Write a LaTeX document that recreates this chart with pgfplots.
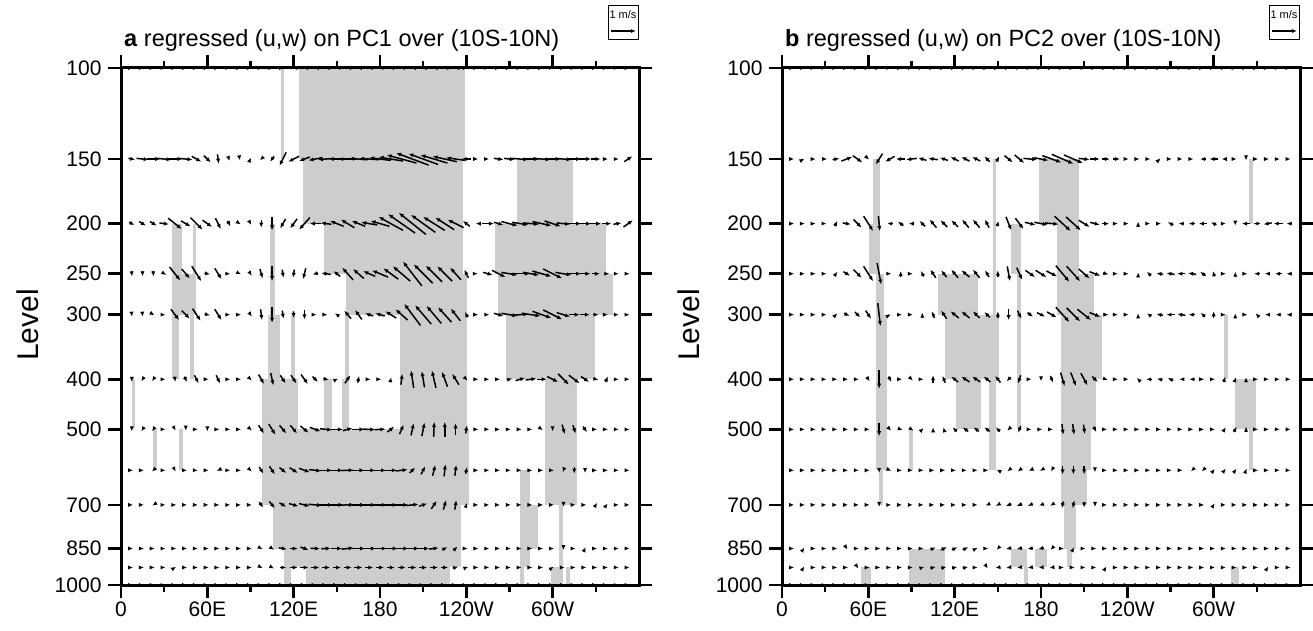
\documentclass[border=0pt]{standalone}
\usepackage{pgfplots}
\pgfplotsset{compat=1.18}
\usepackage{pgfplotstable}
\usepackage{fontspec}
\setmainfont{Liberation Sans}
\usetikzlibrary{arrows.meta}
\definecolor{sig}{RGB}{204,206,206}

% regressed (u,w) vectors, panel a: lon, level (hPa), u, w (display units, 1 = ref vector)
\pgfplotstableread{
lon p u w
7.5 100 .1 0
15 100 .1 0
22.5 100 .1 0
30 100 .1 0
37.5 100 .1 0
45 100 .1 0
52.5 100 .1 0
60 100 .1 0
67.5 100 .1 0
75 100 .1 0
82.5 100 .1 0
90 100 .1 0
97.5 100 .1 0
105 100 .1 0
112.5 100 .1 0
120 100 -.1 0
127.5 100 -.1 0
135 100 -.1 0
142.5 100 -.1 0
150 100 -.1 0
157.5 100 -.12 0
165 100 -.12 0
172.5 100 -.12 0
180 100 -.12 0
187.5 100 -.12 0
195 100 -.12 0
202.5 100 -.12 0
210 100 -.12 0
217.5 100 -.1 0
225 100 -.1 0
232.5 100 -.1 0
240 100 .1 0
247.5 100 .1 0
255 100 .1 0
262.5 100 .1 0
270 100 .1 0
277.5 100 .1 0
285 100 .1 0
292.5 100 .1 0
300 100 .1 0
307.5 100 .1 0
315 100 .1 0
322.5 100 .1 0
330 100 .1 0
337.5 100 .1 0
345 100 .1 0
352.5 100 .1 0
7.5 150 .25 -.05
15 150 .45 -.05
22.5 150 .5 0
30 150 .55 -.05
37.5 150 .55 0
45 150 .5 -.05
52.5 150 .35 -.2
60 150 .25 -.25
67.5 150 .05 -.35
75 150 .05 -.15
82.5 150 .02 -.1
90 150 .05 .1
97.5 150 -.1 -.1
105 150 -.15 -.2
112.5 150 -.25 -.5
120 150 -.4 -.2
127.5 150 -.4 -.15
135 150 -.5 -.1
142.5 150 -.6 -.05
150 150 -.6 0
157.5 150 -.7 0
165 150 -.7 .05
172.5 150 -.75 .05
180 150 -.8 .1
187.5 150 -.9 .15
195 150 -1.1 .3
202.5 150 -1.2 .45
210 150 -1.1 .4
217.5 150 -1 .3
225 150 -.9 .2
232.5 150 -.7 .1
240 150 -.35 0
247.5 150 .08 0
255 150 .08 0
262.5 150 .35 -.05
270 150 .4 -.05
277.5 150 .6 -.05
285 150 .6 0
292.5 150 .65 -.05
300 150 .6 0
307.5 150 .6 -.05
315 150 .5 0
322.5 150 .45 0
330 150 .35 0
337.5 150 .1 0
345 150 .1 0
352.5 150 .3 .2
7.5 200 .2 -.1
15 200 .25 -.15
22.5 200 .25 -.15
30 200 .35 -.05
37.5 200 .5 -.4
45 200 .35 -.2
52.5 200 .45 -.45
60 200 .35 -.25
67.5 200 .2 -.4
75 200 .1 -.2
82.5 200 .08 -.05
90 200 .05 -.1
97.5 200 0 -.3
105 200 0 -.5
112.5 200 -.2 -.35
120 200 -.25 -.35
127.5 200 -.4 -.45
135 200 -.4 0
142.5 200 -.4 .05
150 200 -.5 .2
157.5 200 -.5 .3
165 200 -.5 .2
172.5 200 -.6 .1
180 200 -.7 .2
187.5 200 -.9 .5
195 200 -1 .7
202.5 200 -1 .8
210 200 -.9 .65
217.5 200 -.8 .5
225 200 -.7 .45
232.5 200 -.6 .3
240 200 -.25 .2
247.5 200 -.1 0
255 200 .45 0
262.5 200 .35 -.1
270 200 .6 -.15
277.5 200 .6 -.1
285 200 .6 -.05
292.5 200 .7 -.15
300 200 .6 -.2
307.5 200 .5 -.05
315 200 .5 0
322.5 200 .45 0
330 200 .4 0
337.5 200 .35 0
345 200 .3 .05
352.5 200 .35 .25
7.5 250 .02 -.2
15 250 .02 -.2
22.5 250 .02 -.2
30 250 .15 -.1
37.5 250 .4 -.5
45 250 .3 -.35
52.5 250 .35 -.55
60 250 .2 -.05
67.5 250 .25 -.4
75 250 .1 0
82.5 250 .1 -.05
90 250 .1 -.15
97.5 250 .1 -.35
105 250 0 -.55
112.5 250 .05 -.3
120 250 -.05 -.3
127.5 250 -.1 -.4
135 250 -.2 -.05
142.5 250 -.35 .05
150 250 -.25 .2
157.5 250 -.4 .45
165 250 -.4 .35
172.5 250 -.45 .2
180 250 -.6 .25
187.5 250 -.55 .4
195 250 -.65 .55
202.5 250 -.7 .9
210 250 -.7 .7
217.5 250 -.6 .6
225 250 -.55 .55
232.5 250 -.4 .45
240 250 -.15 .3
247.5 250 .05 0
255 250 .35 -.1
262.5 250 .5 -.25
270 250 .6 -.1
277.5 250 .7 0
285 250 .6 -.1
292.5 250 .7 -.2
300 250 .7 -.35
307.5 250 .6 -.1
315 250 .5 0
322.5 250 .4 0
330 250 .3 0
337.5 250 .2 0
345 250 .1 0
352.5 250 .1 0
7.5 300 .02 -.15
15 300 .02 -.15
22.5 300 .08 -.05
30 300 .1 0
37.5 300 .3 -.4
45 300 .3 -.3
52.5 300 .3 -.45
60 300 .2 -.05
67.5 300 .25 -.4
75 300 .1 0
82.5 300 .1 0
90 300 .1 -.15
97.5 300 .05 -.4
105 300 0 -.6
112.5 300 .05 -.3
120 300 .02 -.25
127.5 300 0 -.35
135 300 .1 0
142.5 300 .1 0
150 300 -.15 .1
157.5 300 -.25 .3
165 300 -.25 .35
172.5 300 -.3 .1
180 300 -.35 .1
187.5 300 -.4 .25
195 300 -.45 .4
202.5 300 -.6 .8
210 300 -.6 .7
217.5 300 -.55 .65
225 300 -.5 .55
232.5 300 -.35 .45
240 300 -.1 .2
247.5 300 .08 0
255 300 .1 0
262.5 300 .35 -.1
270 300 .6 -.1
277.5 300 .6 .05
285 300 .7 -.1
292.5 300 .7 -.25
300 300 .7 -.35
307.5 300 .5 -.15
315 300 .4 0
322.5 300 .35 0
330 300 .2 0
337.5 300 .1 0
345 300 .1 0
352.5 300 .1 0
7.5 400 0 -.2
15 400 -.1 -.15
22.5 400 -.1 -.15
30 400 .1 0
37.5 400 .02 -.2
45 400 .1 -.2
52.5 400 .15 -.3
60 400 .1 0
67.5 400 .15 -.3
75 400 .1 0
82.5 400 .1 0
90 400 .1 -.1
97.5 400 .2 -.35
105 400 .1 -.45
112.5 400 .2 -.3
120 400 .2 -.3
127.5 400 .25 -.35
135 400 .2 -.2
142.5 400 .2 -.05
150 400 .1 .05
157.5 400 .2 .3
165 400 .05 .25
172.5 400 .1 0
180 400 .1 0
187.5 400 .03 .15
195 400 .05 .4
202.5 400 -.1 .65
210 400 -.1 .6
217.5 400 -.15 .65
225 400 -.2 .55
232.5 400 -.25 .4
240 400 .1 -.1
247.5 400 .1 0
255 400 .1 0
262.5 400 .1 0
270 400 .2 .05
277.5 400 .35 .1
285 400 .4 .05
292.5 400 .35 0
300 400 .4 -.2
307.5 400 .4 -.4
315 400 .4 -.3
322.5 400 .3 -.2
330 400 .2 -.05
337.5 400 .1 .2
345 400 .1 0
352.5 400 .1 0
7.5 500 0 -.15
15 500 -.1 -.15
22.5 500 -.1 -.15
30 500 .1 0
37.5 500 .05 -.1
45 500 0 -.1
52.5 500 .1 0
60 500 0 -.15
67.5 500 .1 0
75 500 .1 0
82.5 500 .1 0
90 500 .1 -.1
97.5 500 .2 -.3
105 500 .25 -.4
112.5 500 .25 -.3
120 500 .25 -.3
127.5 500 .3 -.25
135 500 .4 -.15
142.5 500 .45 -.05
150 500 .45 0
157.5 500 .35 .1
165 500 .45 0
172.5 500 .45 -.02
180 500 .4 .02
187.5 500 .25 .2
195 500 .15 .35
202.5 500 .1 .45
210 500 .1 .5
217.5 500 .02 .55
225 500 0 .55
232.5 500 0 .45
240 500 .05 .3
247.5 500 .1 0
255 500 .1 0
262.5 500 .1 0
270 500 .1 0
277.5 500 .1 0
285 500 .1 0
292.5 500 .08 -.05
300 500 0 -.15
307.5 500 .1 -.35
315 500 .1 -.3
322.5 500 .15 -.2
330 500 .1 0
337.5 500 .1 0
345 500 .1 0
352.5 500 .1 0
7.5 600 .1 0
15 600 .1 0
22.5 600 -.1 -.1
30 600 .1 0
37.5 600 .05 -.1
45 600 .1 0
52.5 600 .1 0
60 600 .1 0
67.5 600 -.1 -.05
75 600 .1 0
82.5 600 .1 0
90 600 .1 -.1
97.5 600 .15 -.25
105 600 .2 -.3
112.5 600 .25 -.2
120 600 .3 -.2
127.5 600 .4 -.15
135 600 .45 -.05
142.5 600 .45 0
150 600 .45 0
157.5 600 .45 .02
165 600 .45 0
172.5 600 .45 0
180 600 .45 0
187.5 600 .45 0
195 600 .45 .05
202.5 600 .2 .2
210 600 .15 .3
217.5 600 .1 .4
225 600 .05 .45
232.5 600 .05 .4
240 600 .05 .25
247.5 600 .1 0
255 600 .1 0
262.5 600 .1 0
270 600 .1 0
277.5 600 .1 0
285 600 .1 0
292.5 600 .1 0
300 600 .1 0
307.5 600 -.05 -.15
315 600 0 -.25
322.5 600 0 -.2
330 600 .1 0
337.5 600 .1 0
345 600 .1 0
352.5 600 .1 0
7.5 700 .1 0
15 700 .1 0
22.5 700 -.08 -.05
30 700 .1 0
37.5 700 .1 0
45 700 .1 0
52.5 700 .1 0
60 700 .1 0
67.5 700 .1 0
75 700 .1 0
82.5 700 .1 0
90 700 .1 0
97.5 700 .15 -.2
105 700 .2 -.25
112.5 700 .25 -.15
120 700 .35 -.1
127.5 700 .4 -.1
135 700 .5 -.05
142.5 700 .5 0
150 700 .5 0
157.5 700 .5 .02
165 700 .5 0
172.5 700 .5 0
180 700 .5 0
187.5 700 .5 0
195 700 .5 0
202.5 700 .45 .05
210 700 .3 .1
217.5 700 .2 .3
225 700 .1 .35
232.5 700 .05 .35
240 700 .05 .15
247.5 700 .1 0
255 700 .1 0
262.5 700 .1 0
270 700 .1 0
277.5 700 .1 0
285 700 .1 0
292.5 700 .1 0
300 700 .1 0
307.5 700 0 -.15
315 700 .1 0
322.5 700 .1 0
330 700 .1 .15
337.5 700 .08 .1
345 700 .1 0
352.5 700 .1 0
7.5 850 .1 0
15 850 .1 0
22.5 850 .1 0
30 850 .1 0
37.5 850 .1 0
45 850 .1 0
52.5 850 .1 0
60 850 .1 0
67.5 850 .1 0
75 850 .1 0
82.5 850 .1 0
90 850 .1 0
97.5 850 .1 -.05
105 850 .15 -.1
112.5 850 .3 -.05
120 850 .3 0
127.5 850 .3 -.1
135 850 .35 -.02
142.5 850 .35 .02
150 850 .4 0
157.5 850 .45 .05
165 850 .5 0
172.5 850 .5 0
180 850 .5 0
187.5 850 .5 0
195 850 .5 0
202.5 850 .5 0
210 850 .45 0
217.5 850 .35 .05
225 850 .2 .1
232.5 850 .15 .15
240 850 .1 0
247.5 850 .1 0
255 850 .1 0
262.5 850 .1 0
270 850 .1 0
277.5 850 .1 0
285 850 .1 0
292.5 850 .1 0
300 850 .1 0
307.5 850 0 -.12
315 850 .1 0
322.5 850 .05 .1
330 850 .1 0
337.5 850 .1 0
345 850 .1 0
352.5 850 .1 0
7.5 925 .1 0
15 925 .1 0
22.5 925 .1 0
30 925 .1 0
37.5 925 .08 .05
45 925 .1 0
52.5 925 .1 0
60 925 .1 0
67.5 925 .1 0
75 925 .1 0
82.5 925 .1 0
90 925 .1 0
97.5 925 .1 -.05
105 925 .15 -.08
112.5 925 .25 0
120 925 .3 0
127.5 925 .3 0
135 925 .3 0
142.5 925 .3 0
150 925 .3 0
157.5 925 .3 0
165 925 .3 0
172.5 925 .3 0
180 925 .3 0
187.5 925 .3 0
195 925 .3 0
202.5 925 .3 0
210 925 .3 0
217.5 925 .3 0
225 925 .25 0
232.5 925 .2 .05
240 925 .15 .05
247.5 925 .1 0
255 925 .1 0
262.5 925 .1 0
270 925 .1 0
277.5 925 .1 0
285 925 .1 0
292.5 925 .1 0
300 925 .08 .05
307.5 925 .1 0
315 925 .1 0
322.5 925 .1 0
330 925 .1 0
337.5 925 .1 0
345 925 .1 0
352.5 925 .1 0
7.5 1000 .1 0
15 1000 .1 0
22.5 1000 .1 0
30 1000 .1 0
37.5 1000 .1 0
45 1000 .1 0
52.5 1000 .1 0
60 1000 .1 0
67.5 1000 .1 0
75 1000 .1 0
82.5 1000 .1 0
90 1000 .1 0
97.5 1000 .1 0
105 1000 .1 0
112.5 1000 .1 0
120 1000 .1 0
127.5 1000 .1 0
135 1000 .1 0
142.5 1000 .1 0
150 1000 .1 0
157.5 1000 .1 0
165 1000 .1 0
172.5 1000 .1 0
180 1000 .1 0
187.5 1000 .1 0
195 1000 .1 0
202.5 1000 .1 0
210 1000 .1 0
217.5 1000 .1 0
225 1000 .1 0
232.5 1000 .1 0
240 1000 .1 0
247.5 1000 .1 0
255 1000 .1 0
262.5 1000 .1 0
270 1000 .1 0
277.5 1000 .1 0
285 1000 .1 0
292.5 1000 .1 0
300 1000 .1 0
307.5 1000 .1 0
315 1000 .1 0
322.5 1000 .1 0
330 1000 .1 0
337.5 1000 .1 0
345 1000 .1 0
352.5 1000 .1 0
}\vecA

% panel b
\pgfplotstableread{
lon p u w
7.5 100 .1 0
15 100 .1 0
22.5 100 .1 0
30 100 .1 0
37.5 100 .1 0
45 100 .1 0
52.5 100 .1 0
60 100 .1 0
67.5 100 .1 0
75 100 .1 0
82.5 100 .1 0
90 100 .1 0
97.5 100 .1 0
105 100 .1 0
112.5 100 .1 0
120 100 .1 0
127.5 100 .1 0
135 100 .1 0
142.5 100 .1 0
150 100 .1 0
157.5 100 .1 0
165 100 .1 0
172.5 100 .1 0
180 100 .1 0
187.5 100 .1 0
195 100 .1 0
202.5 100 .1 0
210 100 .1 0
217.5 100 .1 0
225 100 .1 0
232.5 100 .1 0
240 100 .1 0
247.5 100 .1 0
255 100 .1 0
262.5 100 .1 0
270 100 .1 0
277.5 100 .1 0
285 100 .1 0
292.5 100 .1 0
300 100 .1 0
307.5 100 .1 0
315 100 .1 0
322.5 100 .1 0
330 100 .1 0
337.5 100 .1 0
345 100 .1 0
352.5 100 .1 0
7.5 150 .1 0
15 150 .05 .03
22.5 150 .1 0
30 150 .15 0
37.5 150 .25 .05
45 150 .4 .15
52.5 150 .35 -.25
60 150 .05 -.05
67.5 150 -.25 -.4
75 150 -.35 -.2
82.5 150 -.35 0
90 150 -.4 -.05
97.5 150 -.3 .1
105 150 -.35 .05
112.5 150 -.3 .1
120 150 -.3 .15
127.5 150 -.3 .15
135 150 -.3 .15
142.5 150 -.2 .2
150 150 .1 .2
157.5 150 .3 -.25
165 150 .35 -.3
172.5 150 .5 -.05
180 150 .55 -.1
187.5 150 .7 -.25
195 150 .8 -.35
202.5 150 .7 -.3
210 150 .4 -.05
217.5 150 .35 0
225 150 .3 0
232.5 150 .25 0
240 150 .1 0
247.5 150 .1 0
255 150 .1 0
262.5 150 .05 .05
270 150 .1 0
277.5 150 .1 0
285 150 .1 0
292.5 150 -.2 0
300 150 -.3 0
307.5 150 -.2 0
315 150 .1 0
322.5 150 0 -.1
330 150 .1 0
337.5 150 .1 0
345 150 .1 0
352.5 150 .1 0
7.5 200 .1 0
15 200 .1 0
22.5 200 .1 0
30 200 .1 0
37.5 200 .1 .2
45 200 .3 -.05
52.5 200 .3 -.3
60 200 .35 -.55
67.5 200 .05 -.55
75 200 -.2 0
82.5 200 -.2 .15
90 200 -.2 0
97.5 200 -.2 .2
105 200 -.25 .3
112.5 200 -.25 .25
120 200 -.25 .25
127.5 200 -.25 .3
135 200 -.25 .3
142.5 200 -.15 .3
150 200 .05 .2
157.5 200 .2 -.5
165 200 .3 -.4
172.5 200 .4 -.1
180 200 .5 -.1
187.5 200 .5 -.05
195 200 .6 -.55
202.5 200 .55 -.5
210 200 .4 -.25
217.5 200 .35 -.1
225 200 .25 0
232.5 200 .1 0
240 200 .1 0
247.5 200 0 .15
255 200 .1 0
262.5 200 .1 0
270 200 -.2 .1
277.5 200 -.2 0
285 200 -.25 0
292.5 200 -.3 0
300 200 -.2 .1
307.5 200 .1 0
315 200 0 -.15
322.5 200 -.3 0
330 200 -.25 0
337.5 200 -.3 -.05
345 200 -.35 0
352.5 200 -.2 0
7.5 250 .1 0
15 250 .1 0
22.5 250 .1 0
30 250 .1 0
37.5 250 .1 .15
45 250 .25 -.15
52.5 250 .3 -.3
60 250 .35 -.55
67.5 250 .15 -.8
75 250 .1 0
82.5 250 0 .2
90 250 .1 0
97.5 250 -.1 .2
105 250 -.2 .3
112.5 250 -.2 .25
120 250 -.25 .3
127.5 250 -.3 .25
135 250 -.25 .3
142.5 250 -.15 .25
150 250 0 .25
157.5 250 .1 -.55
165 250 .2 -.45
172.5 250 .35 -.25
180 250 .4 -.25
187.5 250 .4 -.2
195 250 .5 -.6
202.5 250 .5 -.55
210 250 .4 -.35
217.5 250 .4 -.15
225 250 .2 -.05
232.5 250 .1 0
240 250 .1 0
247.5 250 0 .1
255 250 -.15 .15
262.5 250 -.25 .05
270 250 -.3 .05
277.5 250 -.3 0
285 250 -.3 .05
292.5 250 -.2 .15
300 250 -.05 .2
307.5 250 .1 0
315 250 0 .15
322.5 250 .1 0
330 250 -.2 0
337.5 250 -.2 0
345 250 -.25 0
352.5 250 -.2 0
7.5 300 .1 0
15 300 .1 0
22.5 300 .1 0
30 300 .1 0
37.5 300 .1 .1
45 300 .2 -.1
52.5 300 .2 -.2
60 300 .2 -.3
67.5 300 .1 -.85
75 300 .05 .03
82.5 300 .1 0
90 300 .1 0
97.5 300 0 .15
105 300 -.1 .25
112.5 300 -.2 .3
120 300 -.3 .25
127.5 300 -.3 .25
135 300 -.25 .25
142.5 300 -.2 .2
150 300 0 .25
157.5 300 0 -.4
165 300 .15 -.3
172.5 300 .2 -.15
180 300 .3 -.15
187.5 300 .35 -.2
195 300 .5 -.55
202.5 300 .5 -.5
210 300 .5 -.4
217.5 300 .4 -.15
225 300 .2 0
232.5 300 .1 0
240 300 .1 0
247.5 300 0 .1
255 300 -.15 .1
262.5 300 -.25 .05
270 300 -.3 0
277.5 300 -.3 .05
285 300 -.25 0
292.5 300 -.15 .15
300 300 0 .25
307.5 300 .1 0
315 300 0 .1
322.5 300 .1 0
330 300 -.1 .1
337.5 300 -.2 0
345 300 -.2 0
352.5 300 -.2 0
7.5 400 .1 0
15 400 .1 0
22.5 400 .1 0
30 400 .1 0
37.5 400 .1 0
45 400 .1 0
52.5 400 .1 0
60 400 .1 -.15
67.5 400 0 -.7
75 400 .1 -.2
82.5 400 .1 0
90 400 .1 -.1
97.5 400 .1 0
105 400 0 .3
112.5 400 -.1 .25
120 400 -.25 .2
127.5 400 -.3 .2
135 400 -.3 .2
142.5 400 -.25 .2
150 400 -.2 .25
157.5 400 -.15 -.15
165 400 -.1 -.3
172.5 400 .1 0
180 400 0 -.15
187.5 400 .1 -.25
195 400 .15 -.5
202.5 400 .2 -.5
210 400 .25 -.45
217.5 400 .2 -.2
225 400 .15 -.05
232.5 400 .1 0
240 400 .1 0
247.5 400 -.1 .1
255 400 -.2 0
262.5 400 -.2 .05
270 400 -.2 .1
277.5 400 -.15 0
285 400 -.2 0
292.5 400 .1 0
300 400 .1 0
307.5 400 .05 .2
315 400 .05 .15
322.5 400 0 .15
330 400 .1 0
337.5 400 .1 0
345 400 .1 0
352.5 400 .1 0
7.5 500 .1 0
15 500 .1 0
22.5 500 .1 0
30 500 .1 0
37.5 500 .1 0
45 500 .1 0
52.5 500 .1 0
60 500 .1 0
67.5 500 0 -.5
75 500 .1 -.1
82.5 500 .15 -.05
90 500 .15 -.1
97.5 500 .1 .1
105 500 0 .15
112.5 500 -.05 .15
120 500 -.15 .15
127.5 500 -.2 .15
135 500 -.2 .15
142.5 500 -.2 .15
150 500 -.15 .15
157.5 500 -.1 -.1
165 500 -.1 -.25
172.5 500 .1 0
180 500 .1 0
187.5 500 .1 0
195 500 .05 -.4
202.5 500 .05 -.4
210 500 .05 -.35
217.5 500 .1 -.2
225 500 .1 0
232.5 500 .1 0
240 500 .1 0
247.5 500 .1 0
255 500 .1 0
262.5 500 .1 0
270 500 .1 0
277.5 500 .1 0
285 500 .1 0
292.5 500 .1 0
300 500 .1 0
307.5 500 .1 .15
315 500 .1 .2
322.5 500 0 .2
330 500 .1 0
337.5 500 .1 0
345 500 .1 0
352.5 500 .1 0
7.5 600 .1 0
15 600 .1 0
22.5 600 .1 0
30 600 .1 0
37.5 600 .1 0
45 600 .1 0
52.5 600 .1 0
60 600 .1 0
67.5 600 0 -.2
75 600 .1 -.05
82.5 600 .1 0
90 600 .1 0
97.5 600 .1 0
105 600 .1 0
112.5 600 .1 0
120 600 .1 0
127.5 600 .1 0
135 600 .1 0
142.5 600 .1 0
150 600 -.1 .05
157.5 600 -.1 -.08
165 600 -.12 -.1
172.5 600 -.1 -.05
180 600 -.08 -.05
187.5 600 -.05 -.1
195 600 0 -.3
202.5 600 0 -.3
210 600 0 -.3
217.5 600 0 -.15
225 600 .1 0
232.5 600 .1 0
240 600 .1 0
247.5 600 .1 0
255 600 .1 0
262.5 600 .1 0
270 600 .1 0
277.5 600 .1 0
285 600 -.08 -.08
292.5 600 -.08 -.08
300 600 .08 .1
307.5 600 .1 .12
315 600 .08 .12
322.5 600 .05 .12
330 600 .1 0
337.5 600 .1 0
345 600 .1 0
352.5 600 .1 0
7.5 700 .1 0
15 700 .1 0
22.5 700 .1 0
30 700 .1 0
37.5 700 .1 0
45 700 .1 0
52.5 700 .1 0
60 700 .1 0
67.5 700 0 -.15
75 700 .1 0
82.5 700 .1 0
90 700 .1 0
97.5 700 .1 0
105 700 .1 0
112.5 700 .1 0
120 700 .1 0
127.5 700 .1 0
135 700 .1 0
142.5 700 -.12 -.05
150 700 -.15 -.08
157.5 700 -.2 -.08
165 700 -.2 -.08
172.5 700 -.18 -.08
180 700 -.15 -.05
187.5 700 -.12 -.08
195 700 -.05 -.25
202.5 700 -.05 -.25
210 700 0 -.2
217.5 700 0 -.15
225 700 .1 0
232.5 700 .1 0
240 700 .1 0
247.5 700 .1 0
255 700 .1 0
262.5 700 .1 0
270 700 .1 0
277.5 700 .1 0
285 700 .1 0
292.5 700 .1 0
300 700 .08 .12
307.5 700 .1 0
315 700 .1 0
322.5 700 .1 0
330 700 .1 0
337.5 700 .1 0
345 700 .1 0
352.5 700 .1 0
7.5 850 .1 0
15 850 .05 .08
22.5 850 .1 0
30 850 .1 0
37.5 850 .1 0
45 850 .05 -.08
52.5 850 .1 0
60 850 .1 0
67.5 850 .1 0
75 850 .1 0
82.5 850 .1 0
90 850 .1 0
97.5 850 .1 0
105 850 .2 .08
112.5 850 .22 .1
120 850 .2 .1
127.5 850 .2 .1
135 850 .1 .05
142.5 850 .1 0
150 850 -.1 -.1
157.5 850 -.2 -.05
165 850 -.2 -.05
172.5 850 -.2 -.03
180 850 -.2 -.05
187.5 850 -.1 -.1
195 850 .1 0
202.5 850 .05 .1
210 850 .1 0
217.5 850 .1 0
225 850 .1 0
232.5 850 .1 0
240 850 .1 0
247.5 850 .1 0
255 850 .1 0
262.5 850 .1 0
270 850 .1 0
277.5 850 .1 0
285 850 .1 0
292.5 850 .1 0
300 850 .1 0
307.5 850 .1 0
315 850 .1 0
322.5 850 .1 0
330 850 .1 0
337.5 850 .1 0
345 850 .1 0
352.5 850 .1 0
7.5 925 .1 0
15 925 .05 .08
22.5 925 .1 0
30 925 .1 0
37.5 925 .1 0
45 925 .1 0
52.5 925 .05 -.08
60 925 .1 0
67.5 925 .1 0
75 925 .1 0
82.5 925 .1 0
90 925 .1 0
97.5 925 .15 .05
105 925 .2 .05
112.5 925 .2 .05
120 925 .2 .05
127.5 925 .2 .05
135 925 .1 0
142.5 925 .05 -.08
150 925 -.18 -.03
157.5 925 -.18 -.03
165 925 -.18 -.03
172.5 925 -.18 -.03
180 925 -.18 -.03
187.5 925 -.18 -.03
195 925 .1 0
202.5 925 .1 0
210 925 .1 0
217.5 925 .1 0
225 925 .05 .08
232.5 925 .1 0
240 925 .1 0
247.5 925 .1 0
255 925 .1 0
262.5 925 .1 0
270 925 .1 0
277.5 925 .1 0
285 925 .1 0
292.5 925 .1 0
300 925 .1 0
307.5 925 .1 0
315 925 .1 0
322.5 925 .1 0
330 925 .1 0
337.5 925 .05 .08
345 925 .1 0
352.5 925 .1 0
7.5 1000 .1 0
15 1000 .1 0
22.5 1000 .1 0
30 1000 .1 0
37.5 1000 .1 0
45 1000 .1 0
52.5 1000 .1 0
60 1000 .1 0
67.5 1000 .1 0
75 1000 .1 0
82.5 1000 .1 0
90 1000 .1 0
97.5 1000 .1 0
105 1000 .1 0
112.5 1000 .1 0
120 1000 .1 0
127.5 1000 .1 0
135 1000 .1 0
142.5 1000 .1 0
150 1000 .1 0
157.5 1000 .1 0
165 1000 .1 0
172.5 1000 .1 0
180 1000 .1 0
187.5 1000 .1 0
195 1000 .1 0
202.5 1000 .1 0
210 1000 .1 0
217.5 1000 .1 0
225 1000 .1 0
232.5 1000 .1 0
240 1000 .1 0
247.5 1000 .1 0
255 1000 .1 0
262.5 1000 .1 0
270 1000 .1 0
277.5 1000 .1 0
285 1000 .1 0
292.5 1000 .1 0
300 1000 .1 0
307.5 1000 .1 0
315 1000 .1 0
322.5 1000 .1 0
330 1000 .1 0
337.5 1000 .1 0
345 1000 .1 0
352.5 1000 .1 0
}\vecB

% significant area: lon from, lon to, level from, level to
\newcommand\sig[4]{\addplot[fill=sig, draw=none, forget plot]
  table[y expr={log10(\thisrow{p})}, row sep=\\]{lon p\\ #1 #3\\ #2 #3\\ #2 #4\\ #1 #4\\};}

% vectors are centred on their grid point, 1 unit = 27px
\newcommand\vectors[1]{\addplot[black, line width=1.5pt,
    quiver={u=\thisrow{u}*18.76, v=-\thisrow{w}*0.05222,
      every arrow/.append style={-{Latex[length=5pt,width=4.2pt]}}}]
  table[x expr={\thisrow{lon}-\thisrow{u}*9.38},
        y expr={log10(\thisrow{p})+\thisrow{w}*0.02611}] {#1};}

\pgfplotsset{
  panel/.style={
    scale only axis, width=518pt, height=517pt,
    xmin=0, xmax=360, ymin=2, ymax=3, y dir=reverse,
    xtick={0,60,...,300}, xticklabels={0,60E,120E,180,120W,60W},
    minor xtick={30,90,...,330},
    ytick={2,2.176091,2.30103,2.39794,2.477121,2.60206,2.69897,2.845098,2.929419,3},
    yticklabels={100,150,200,250,300,400,500,700,850,1000},
    tick align=outside, major tick length=13pt, minor tick length=7pt,
    tick style={black, line width=2.6pt},
    axis line style={line width=3pt},
    every outer x axis line/.append style={line width=3pt},
    every outer y axis line/.append style={line width=3pt},
    ticklabel style={font=\fontsize{21}{24}\selectfont},
    yticklabel style={xshift=-3pt},
    axis on top,
  },
}

\begin{document}
\begin{tikzpicture}[x=1pt,y=1pt]
\useasboundingbox (0,0) rectangle (1313,631);

\begin{axis}[panel, name=pa, at={(121pt,46pt)}, anchor=south west]
\sig{110.9}{113.2}{100}{150}
\sig{123.9}{238.9}{100}{150}
\sig{126.3}{237.5}{150}{200}
\sig{275}{314}{150}{200}
\sig{141.1}{237.5}{200}{250}
\sig{259.8}{336.8}{200}{250}
\sig{156.4}{240.3}{250}{300}
\sig{262.2}{341.7}{250}{300}
\sig{193.7}{240.3}{300}{500}
\sig{267.6}{329.5}{300}{400}
\sig{35.3}{42.6}{200}{250}
\sig{50.3}{52.3}{200}{250}
\sig{35.3}{52.3}{250}{300}
\sig{35.3}{40.2}{300}{400}
\sig{48.2}{50.6}{300}{400}
\sig{103.5}{107}{200}{300}
\sig{102}{110.8}{300}{400}
\sig{118.1}{120.7}{300}{400}
\sig{155.8}{158.8}{300}{400}
\sig{7.3}{9.7}{400}{500}
\sig{98.2}{123.2}{400}{500}
\sig{141.2}{146.3}{400}{500}
\sig{153.7}{158.3}{400}{500}
\sig{294.6}{317}{400}{700}
\sig{98.2}{241.9}{500}{700}
\sig{22.4}{24.8}{500}{600}
\sig{40.4}{42.8}{500}{600}
\sig{105.8}{236.1}{700}{850}
\sig{113.4}{236.6}{850}{925}
\sig{113.2}{118.1}{925}{1000}
\sig{128.3}{228.4}{925}{1000}
\sig{277}{284}{600}{925}
\sig{277}{280}{925}{1000}
\sig{284}{290}{700}{850}
\sig{304.2}{307.2}{700}{1000}
\sig{299}{305}{925}{1000}
\sig{309.5}{312}{925}{1000}
\vectors{\vecA}
\end{axis}

\begin{axis}[panel, name=pb, at={(782pt,46pt)}, anchor=south west]
\sig{62.9}{68.3}{150}{200}
\sig{60.6}{68.3}{200}{250}
\sig{65}{70.6}{250}{300}
\sig{65.5}{72.8}{300}{600}
\sig{67.6}{70.3}{600}{700}
\sig{146.3}{148.6}{150}{600}
\sig{159}{166}{200}{250}
\sig{163.6}{166}{250}{500}
\sig{178.7}{206.5}{150}{200}
\sig{191.4}{206.5}{200}{250}
\sig{191.4}{216.9}{250}{300}
\sig{193.7}{222.7}{300}{400}
\sig{193.7}{218.1}{400}{500}
\sig{193.7}{215}{500}{600}
\sig{193.7}{212.2}{600}{700}
\sig{196}{204.1}{700}{850}
\sig{198.4}{201.8}{850}{925}
\sig{108.1}{135.9}{250}{300}
\sig{113.2}{150.9}{300}{400}
\sig{120.8}{138.6}{400}{500}
\sig{143.9}{148.6}{400}{600}
\sig{88.4}{91.2}{500}{600}
\sig{324.8}{327.2}{150}{200}
\sig{307.3}{309.7}{300}{400}
\sig{315}{329.6}{400}{500}
\sig{324.8}{327.2}{500}{600}
\sig{88}{113.2}{850}{1000}
\sig{159}{170.6}{850}{925}
\sig{168}{171}{925}{1000}
\sig{176}{184}{850}{925}
\sig{54.9}{62.1}{925}{1000}
\sig{311.8}{317.6}{925}{1000}
\vectors{\vecB}
\end{axis}

\node[anchor=base west, inner sep=0pt, font=\fontsize{23.5}{28}\selectfont]
  at ([xshift=3pt,yshift=21pt]pa.north west) {\textbf{a} regressed (u,w) on PC1 over (10S-10N)};
\node[anchor=base west, inner sep=0pt, font=\fontsize{23.5}{28}\selectfont]
  at ([xshift=3pt,yshift=21pt]pb.north west) {\textbf{b} regressed (u,w) on PC2 over (10S-10N)};
\node[rotate=90, font=\fontsize{30}{36}\selectfont] at (28,306) {Level};
\node[rotate=90, font=\fontsize{30}{36}\selectfont] at (689,306) {Level};

% reference vector boxes
\foreach \dx in {0,661}{
  \draw[line width=1pt] (608+\dx,591) rectangle (638+\dx,625);
  \node[font=\fontsize{11}{13}\selectfont, inner sep=0pt] at (623+\dx,616) {1 m/s};
  \draw[line width=1.2pt, -{Latex[length=5pt,width=4pt]}] (611+\dx,600) -- (636+\dx,600);
}
\end{tikzpicture}
\end{document}
